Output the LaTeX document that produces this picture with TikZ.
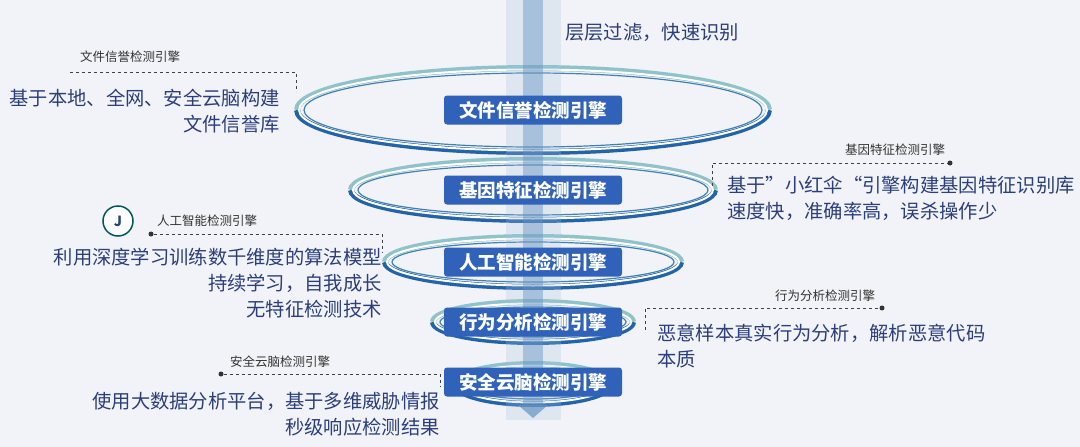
\documentclass[tikz,border=0pt]{standalone}
\usepackage{fontspec}
\setmainfont{Noto Sans CJK SC}
\usetikzlibrary{arrows.meta}
\definecolor{txt}{HTML}{2B3F7C}
\definecolor{ringd}{HTML}{2363A8}
\definecolor{ringl}{HTML}{8FC3C9}
\definecolor{boxc}{HTML}{2F62B8}
\definecolor{bg}{HTML}{F1F3F8}
\tikzset{
 eng/.style={fill=boxc,rounded corners=3pt,text=white,font=\bfseries\fontsize{18.5}{18.5}\selectfont,minimum width=178pt,minimum height=29pt,inner sep=0pt},
 lbl/.style={text=black!80,font=\fontsize{12.5}{12.5}\selectfont,inner sep=0pt},
 body/.style={text=txt,font=\fontsize{19.3}{26}\selectfont,inner sep=0pt},
 dl/.style={dashed,black!75,line width=0.9pt},
 dotc/.style={circle,fill=black!80,inner sep=0pt,minimum size=5pt},
}
\newcommand\ringE[4]{% x y rx ry
 \draw[ringd,line width=6pt] (#1+#3,#2) arc[start angle=0,end angle=180,x radius=#3,y radius=#4];
 \draw[ringl,line width=6pt] (#1-#3,#2) arc[start angle=180,end angle=360,x radius=#3,y radius=#4];
 \draw[white,line width=2pt] (#1,#2) ellipse[x radius=#3-2,y radius=#4-1.5];
 \draw[ringd!70!ringl,line width=1.2pt] (#1,#2) ellipse[x radius=#3-7,y radius=#4-5];
}
\begin{document}
\begin{tikzpicture}[x=1pt,y=-1pt]
\fill[bg] (0,0) rectangle (1080,447);
\useasboundingbox (0,0) rectangle (1080,447);
% rings
\ringE{533}{110}{236}{42}
\ringE{533}{190}{182}{30}
\ringE{533}{262}{148}{25}
\ringE{533}{322}{100}{20}
\ringE{533}{384}{78}{20}
% pole
\fill[ringd!40,opacity=0.25] (506,0) rectangle (561,420);
\fill[ringd!70,opacity=0.45] (523,0) rectangle (543,405);
\fill[ringd!70,opacity=0.7] (518,405) -- (548,405) -- (533,418) -- cycle;
% engine boxes
\node[eng] (e1) at (533,110) {文件信誉检测引擎};
\node[eng] (e2) at (533,190) {基因特征检测引擎};
\node[eng] (e3) at (533,262) {人工智能检测引擎};
\node[eng] (e4) at (533,322) {行为分析检测引擎};
\node[eng] (e5) at (533,382) {安全云脑检测引擎};
\node[body,anchor=west] (top) at (565,32) {层层过滤，快速识别};
% block 1
\node[lbl] (l1) at (130,57) {文件信誉检测引擎};
\coordinate (a1) at (70,72); \coordinate (b1) at (296,72); \coordinate (c1) at (296,92);
\draw[dl] (a1) -- (b1) -- (c1);
\node[body,anchor=north east,align=right] (t1) at (280,89) {基于本地、全网、安全云脑构建\\文件信誉库};
% block 2
\node[lbl] (l2) at (895,150) {基因特征检测引擎};
\coordinate (a2) at (712,186); \coordinate (b2) at (712,163); \node[dotc] (d2) at (950,163) {};
\draw[dl] (a2) -- (b2) -- (d2);
\node[body,anchor=north west,align=left] (t2) at (727,176) {基于”小红伞“引擎构建基因特征识别库\\速度快，准确率高，误杀操作少};
% block 3
\node[circle,draw=teal!70!black,line width=1.5pt,minimum size=30pt,fill=white] (ic) at (118,221) {};
\node[text=txt,font=\bfseries\itshape\fontsize{14}{14}\selectfont] at (ic) {J};
\node[lbl,anchor=west] (l3) at (157,221) {人工智能检测引擎};
\node[dotc] (d3) at (151,234) {}; \coordinate (b3) at (382,234); \coordinate (c3) at (382,252);
\draw[dl] (d3) -- (b3) -- (c3);
\node[body,anchor=north east,align=right] (t3) at (382,248) {利用深度学习训练数千维度的算法模型\\持续学习，自我成长\\无特征检测技术};
% block 4
\node[lbl] (l4) at (825,296) {行为分析检测引擎};
\coordinate (a4) at (645,330); \coordinate (b4) at (645,308); \node[dotc] (d4) at (882,308) {};
\draw[dl] (a4) -- (b4) -- (d4);
\node[body,anchor=north west,align=left] (t4) at (657,324) {恶意样本真实行为分析，解析恶意代码\\本质};
% block 5
\node[lbl] (l5) at (280,362) {安全云脑检测引擎};
\node[dotc] (d5) at (221,374) {}; \coordinate (b5) at (440,374); \coordinate (c5) at (440,386);
\draw[dl] (d5) -- (b5) -- (c5);
\node[body,anchor=north east,align=right] (t5) at (440,392) {使用大数据分析平台，基于多维威胁情报\\秒级响应检测结果};
\end{tikzpicture}
\end{document}
